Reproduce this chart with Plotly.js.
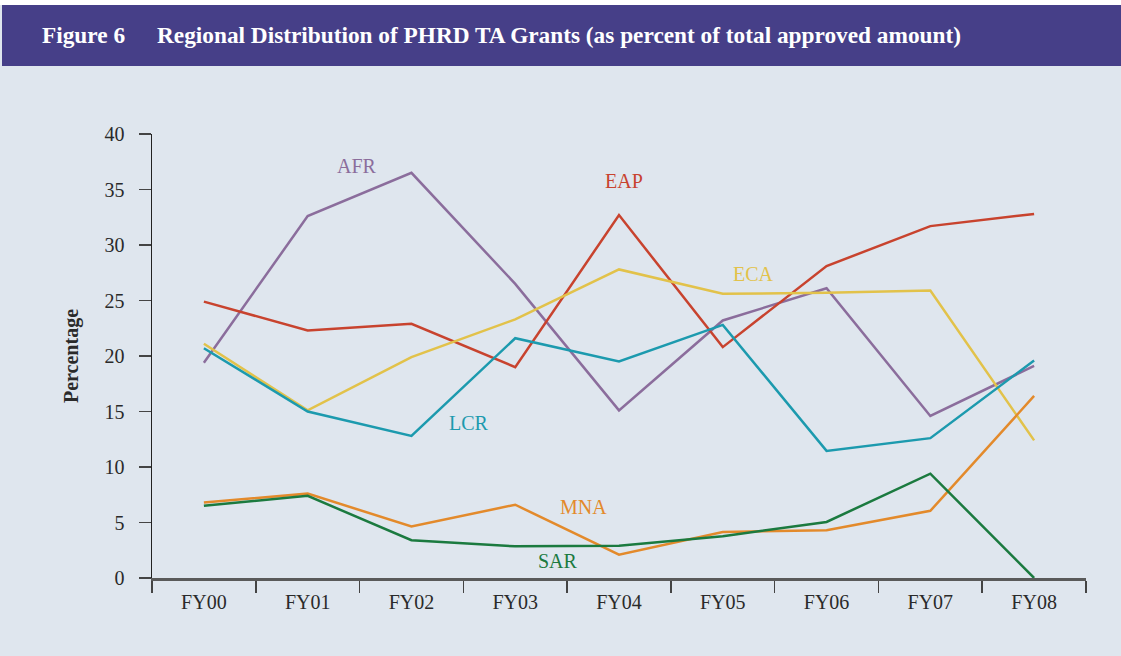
<!DOCTYPE html>
<html>
<head>
<meta charset="utf-8">
<script src="https://cdn.plot.ly/plotly-3.0.1.min.js"></script>
<style>html,body{margin:0;padding:0;background:#dfe6ee;}#chart{width:1121px;height:656px;}</style>
</head>
<body>
<div id="chart"></div>
<script>
const years = ["FY00","FY01","FY02","FY03","FY04","FY05","FY06","FY07","FY08"];
const AFR = [19.4, 32.6, 36.5, 26.5, 15.1, 23.2, 26.1, 14.6, 19.1];
const EAP = [24.9, 22.3, 22.9, 19.0, 32.7, 20.8, 28.1, 31.7, 32.8];
const ECA = [21.1, 15.1, 19.9, 23.3, 27.8, 25.6, 25.7, 25.9, 12.4];
const LCR = [20.7, 15.0, 12.8, 21.6, 19.5, 22.8, 11.45, 12.6, 19.6];
const MNA = [6.8, 7.6, 4.65, 6.6, 2.1, 4.15, 4.3, 6.05, 16.4];
const SAR = [6.5, 7.4, 3.4, 2.85, 2.9, 3.76, 5.05, 9.4, 0];
const seriesNames = ["AFR","EAP","ECA","LCR","MNA","SAR"];
const seriesData = [AFR, EAP, ECA, LCR, MNA, SAR];
const colors = ["#8b6d9c","#c8432e","#e2c24a","#1c9aae","#e38a2b","#1b7a3f"];
// label positions (category index, value)
const labelX = [1.48, 4.05, 5.3, 2.55, 3.66, 3.41];
const labelY = [37.1, 35.8, 27.4, 13.95, 6.4, 1.5];

const serif = "Liberation Serif, DejaVu Serif, serif";

const traces = seriesNames.map((n,i)=>({
  type:"scatter", mode:"lines", name:n, x:years, y:seriesData[i],
  line:{color:colors[i], width:2.5}, hoverinfo:"x+y+name"
}));

const annotations = seriesNames.map((n,i)=>({
  x:labelX[i], y:labelY[i], xref:"x", yref:"y", text:n, showarrow:false,
  font:{family:serif, size:20, color:colors[i]}
}));
annotations.push({
  xref:"paper", yref:"paper", x:(40-152)/934, y:(578-35)/444, xanchor:"left", yanchor:"middle",
  text:"<b>Figure 6</b>", showarrow:false, font:{family:serif, size:23.3, color:"#ffffff"}
});

const layout = {
  width:1121, height:656,
  paper_bgcolor:"#dfe6ee", plot_bgcolor:"#dfe6ee",
  margin:{l:152, r:35, t:134, b:78},
  showlegend:false,
  title:{
    text:"<b>Regional Distribution of PHRD TA Grants (as percent of total approved amount)</b>",
    xref:"container", yref:"container", x:157/1121, xanchor:"left",
    y:1-35/656, yanchor:"middle",
    font:{family:serif, size:23.3, color:"#ffffff"}
  },
  xaxis:{
    type:"category", range:[-0.5, 8.5], tickson:"boundaries",
    ticks:"outside", ticklen:12, tickwidth:1.5, tickcolor:"#444",
    showline:true, linecolor:"#5a5a5a", linewidth:2.5,
    showgrid:false, zeroline:false, ticklabelstandoff:4,
    tickfont:{family:serif, size:20, color:"#2a2a2a"}
  },
  yaxis:{
    range:[0,40], dtick:5, tick0:0,
    ticks:"outside", ticklen:12, tickwidth:1.5, tickcolor:"#444",
    showline:true, linecolor:"#222", linewidth:1.5,
    showgrid:false, zeroline:false, ticklabelstandoff:10,
    tickfont:{family:serif, size:20, color:"#2a2a2a"},
    title:{text:"<b>Percentage</b>", font:{family:serif, size:20, color:"#2a2a2a"}, standoff:20}
  },
  shapes:[
    {type:"rect", xref:"paper", yref:"paper", x0:-0.2, x1:1.1, y0:(578-5)/444, y1:1.4,
     fillcolor:"#ffffff", line:{width:0}, layer:"below"},
    {type:"rect", xref:"paper", yref:"paper", x0:(2-152)/934, x1:1.1, y0:(578-66)/444, y1:(578-5)/444,
     fillcolor:"#463f88", line:{width:0}, layer:"below"}
  ],
  annotations:annotations
};

Plotly.newPlot("chart", traces, layout, {staticPlot:true, displayModeBar:false});
</script>
</body>
</html>
